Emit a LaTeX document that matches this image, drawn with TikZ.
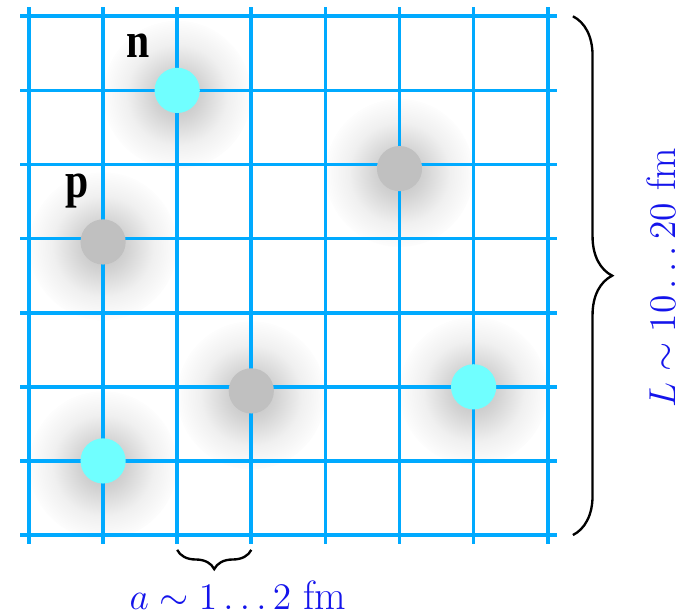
\documentclass[tikz,border=0pt]{standalone}
\usepackage{fontspec}
\newfontfamily\timesbf{Liberation Serif}[BoldFont=* Bold]
\usetikzlibrary{decorations.pathreplacing,fadings}
\definecolor{gridblue}{RGB}{0,170,255}
\definecolor{partcyan}{RGB}{112,255,255}
\definecolor{partgray}{RGB}{192,192,192}
\definecolor{labblue}{RGB}{20,20,235}
\pgfdeclareradialshading{glowshade}{\pgfpointorigin}{%
  color(0bp)=(transparent!74); color(8.5bp)=(transparent!83);
  color(17bp)=(transparent!94); color(26bp)=(transparent!100);
  color(50bp)=(transparent!100)}
\pgfdeclarefading{glowfade}{\pgfuseshading{glowshade}}
\tikzset{
  gridline/.style={draw=gridblue, line width=1.4pt},
  glow/.style={fill=black, path fading=glowfade},
  cyanpart/.style={circle, fill=partcyan, minimum size=0.61cm, inner sep=0pt},
  graypart/.style={circle, fill=partgray, minimum size=0.61cm, inner sep=0pt},
  bracestyle/.style={draw=black, line width=0.9pt, decorate},
  mathlab/.style={text=labblue, font=\fontsize{15.7}{18}\selectfont, inner sep=0pt},
  partlab/.style={font=\fontsize{16}{18}\selectfont\timesbf\bfseries, inner sep=0pt, anchor=base}
}
\begin{document}
\begin{tikzpicture}
\useasboundingbox (-0.391,-1.066) rectangle (8.947,7.220);
% particle positions
\coordinate (cn) at (2,6);
\coordinate (cg1) at (5,4.945);
\coordinate (cp) at (1,3.955);
\coordinate (cg2) at (3,1.945);
\coordinate (cc2) at (6,2);
\coordinate (cc3) at (1,1);
% shadows
\foreach \c in {cn,cg1,cp,cg2,cc2,cc3}{
  \fill[glow] ([yshift=-0.06cm]\c) circle (1);
}
% grid
\foreach \i in {0,...,7}{
  \draw[gridline] (\i,-0.12) -- (\i,7.12);
  \draw[gridline] (-0.12,\i) -- (7.12,\i);
}
% particles
\node[cyanpart] (n1) at (cn) {};
\node[graypart] (g1) at (cg1) {};
\node[graypart] (p1) at (cp) {};
\node[graypart] (g2) at (cg2) {};
\node[cyanpart] (c2) at (cc2) {};
\node[cyanpart] (c3) at (cc3) {};
% labels
\node[partlab] (nlab) at (1.47,6.44) {\scalebox{1}[1.2]{n}};
\node[partlab] (plab) at (0.655,4.55) {\scalebox{1}[1.2]{p}};
% braces
\coordinate (bL1) at (2,-0.2);
\coordinate (bL2) at (3,-0.2);
\draw[bracestyle, decoration={brace, mirror, amplitude=0.26cm}] (bL1) -- (bL2);
\coordinate (bR1) at (7.34,7);
\coordinate (bR2) at (7.34,0);
\draw[bracestyle, decoration={brace, amplitude=0.53cm}] (bR1) -- (bR2);
% texts
\node[mathlab, anchor=base] (alab) at (2.82,-1.0) {$a\sim1\ldots2$ fm};
\node[mathlab, anchor=base, rotate=90] (Llab) at (8.72,3.475) {$L\sim10\ldots20$ fm};
\end{tikzpicture}
\end{document}
